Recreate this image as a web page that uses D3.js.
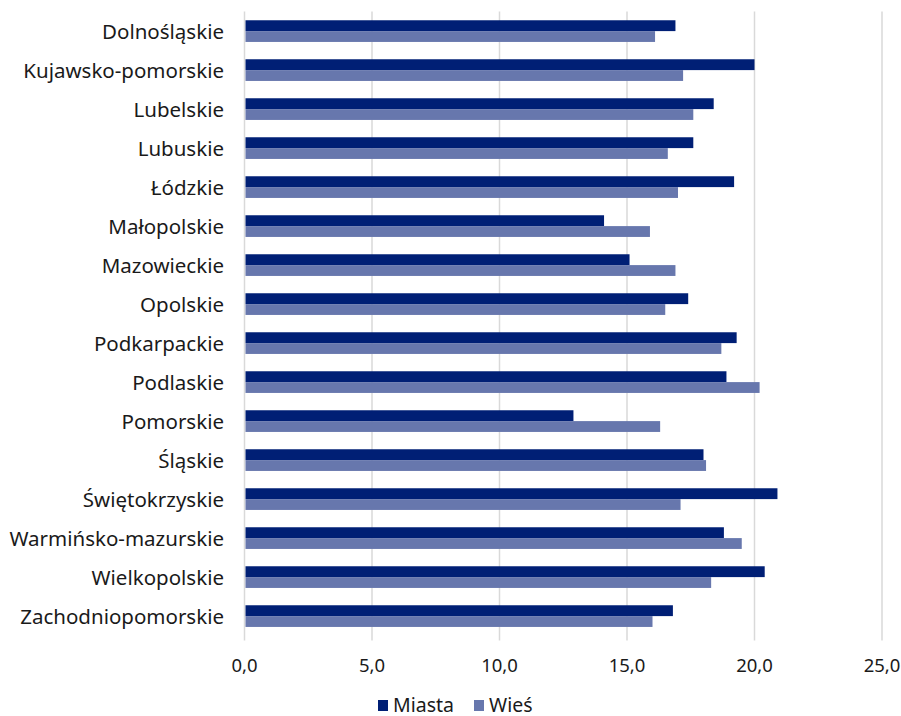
<!DOCTYPE html>
<html lang="pl">
<head>
<meta charset="UTF-8" />
<title>Miasta / Wieś</title>
<style>
  body { margin: 0; background: #fff; font-family: "Noto Sans", sans-serif; }
  svg text { fill: #1a1a1a; }
</style>
</head>
<body>
<svg id="chart" width="901" height="716"></svg>
<script src="https://d3js.org/d3.v7.min.js"></script>
<script>
const regions = [
  "Dolnośląskie", "Kujawsko-pomorskie", "Lubelskie", "Lubuskie", "Łódzkie",
  "Małopolskie", "Mazowieckie", "Opolskie", "Podkarpackie", "Podlaskie",
  "Pomorskie", "Śląskie", "Świętokrzyskie", "Warmińsko-mazurskie",
  "Wielkopolskie", "Zachodniopomorskie"
];
const miasta = [16.9, 20.0, 18.4, 17.6, 19.2, 14.1, 15.1, 17.4, 19.3, 18.9, 12.9, 18.0, 20.9, 18.8, 20.4, 16.8];
const wies   = [16.1, 17.2, 17.6, 16.6, 17.0, 15.9, 16.9, 16.5, 18.7, 20.2, 16.3, 18.1, 17.1, 19.5, 18.3, 16.0];
const seriesNames = ["Miasta", "Wieś"];
const xTicks = [0, 5, 10, 15, 20, 25];

const colors = ["#001f75", "#6777ad"];
const svg = d3.select("#chart");
const plotLeft = 244.5, plotRight = 882, plotTop = 11.6, plotBottom = 635.6;

const x = d3.scaleLinear().domain([0, 25]).range([plotLeft, plotRight]);
const y = d3.scaleBand().domain(regions).range([plotTop, plotBottom]).paddingInner(0.444).paddingOuter(0.222);
const inner = d3.scaleBand().domain(seriesNames).range([0, y.bandwidth()]);

// gridlines
svg.append("g")
  .selectAll("line")
  .data(xTicks)
  .join("line")
  .attr("x1", d => x(d)).attr("x2", d => x(d))
  .attr("y1", plotTop).attr("y2", plotBottom + 5)
  .attr("stroke", "#d9d9d9")
  .attr("stroke-width", 1.5);

// bars
const rows = regions.map((r, i) => ({ region: r, values: [miasta[i], wies[i]] }));
const g = svg.append("g")
  .selectAll("g")
  .data(rows)
  .join("g")
  .attr("transform", d => `translate(0,${y(d.region)})`);

g.selectAll("rect")
  .data(d => d.values.map((v, k) => ({ v, k })))
  .join("rect")
  .attr("x", x(0) + 1)
  .attr("y", d => inner(seriesNames[d.k]))
  .attr("width", d => x(d.v) - x(0) - 1)
  .attr("height", inner.bandwidth())
  .attr("fill", d => colors[d.k]);

// category labels
svg.append("g")
  .selectAll("text")
  .data(regions)
  .join("text")
  .attr("x", 224)
  .attr("y", d => y(d) + y.bandwidth() / 2)
  .attr("text-anchor", "end")
  .attr("dominant-baseline", "central")
  .style("font-size", "20.5px")
  .text(d => d);

// x tick labels
const fmt = d => d3.format(".1f")(d).replace(".", ",");
svg.append("g")
  .selectAll("text")
  .data(xTicks)
  .join("text")
  .attr("x", d => x(d))
  .attr("y", 664)
  .attr("text-anchor", "middle")
  .attr("dominant-baseline", "central")
  .style("font-size", "18.5px")
  .text(fmt);

// legend
const legendX = [378, 474];
const lg = svg.append("g")
  .selectAll("g")
  .data(seriesNames)
  .join("g")
  .attr("transform", (d, i) => `translate(${legendX[i]},704)`);
lg.append("rect")
  .attr("x", 0).attr("y", -4)
  .attr("width", 10).attr("height", 11)
  .attr("fill", (d, i) => colors[i]);
lg.append("text")
  .attr("x", 15).attr("y", 0)
  .attr("dominant-baseline", "central")
  .style("font-size", "19.5px")
  .text(d => d);
</script>
</body>
</html>
